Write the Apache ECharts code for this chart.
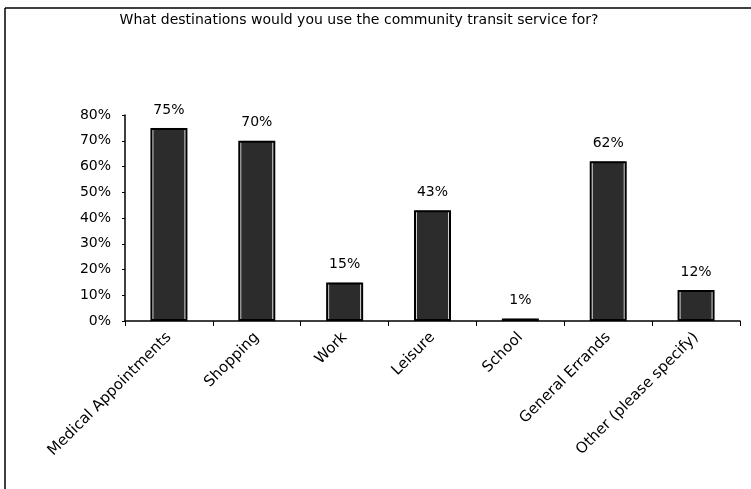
<!DOCTYPE html>
<html>
<head>
<meta charset="utf-8">
<script src="https://cdn.jsdelivr.net/npm/echarts@6/dist/echarts.min.js"></script>
<style>
  html, body { margin: 0; padding: 0; background: #fff; }
  #chart { width: 751px; height: 489px; }
</style>
</head>
<body>
<div id="chart"></div>
<script>
// Survey answers: share of respondents per destination
const categories = ['Medical Appointments', 'Shopping', 'Work', 'Leisure', 'School', 'General Errands', 'Other (please specify)'];
const percentages = [75, 70, 15, 43, 1, 62, 12];
const yTicks = [0, 10, 20, 30, 40, 50, 60, 70, 80];

const FONT = '"DejaVu Sans", Verdana, sans-serif';
const chart = echarts.init(document.getElementById('chart'));

chart.setOption({
  backgroundColor: '#ffffff',
  animation: false,
  title: {
    text: 'What destinations would you use the community transit service for?',
    left: 354,
    top: 8,
    textAlign: 'center',
    textStyle: { fontFamily: FONT, fontSize: 14, fontWeight: 'normal', color: '#000' }
  },
  graphic: [
    // frame around the chart area (top and left edges)
    { type: 'line', shape: { x1: 5, y1: 8, x2: 751, y2: 8 }, style: { stroke: '#000', lineWidth: 1.5 } },
    { type: 'line', shape: { x1: 5, y1: 8, x2: 5, y2: 489 }, style: { stroke: '#000', lineWidth: 1.5 } }
  ],
  grid: { left: 125, right: 11, top: 115, bottom: 168, containLabel: false },
  xAxis: [{
    type: 'category',
    data: categories,
    axisLine: { lineStyle: { color: '#000', width: 1.5 } },
    axisTick: { show: true, length: 5, lineStyle: { color: '#000' } },
    axisLabel: {
      rotate: 45,
      interval: 0,
      margin: 14,
      fontFamily: FONT,
      fontSize: 15,
      color: '#000'
    }
  }, {
    // hidden twin axis carrying the bar fill
    type: 'category',
    data: categories,
    show: false
  }],
  yAxis: {
    type: 'value',
    min: yTicks[0],
    max: yTicks[yTicks.length - 1],
    interval: 10,
    axisLine: { show: true, lineStyle: { color: '#000', width: 1.5 } },
    axisTick: { show: true, length: 3, lineStyle: { color: '#000' } },
    splitLine: { show: false },
    axisLabel: {
      formatter: v => v + '%',
      margin: 14,
      fontFamily: FONT,
      fontSize: 14,
      color: '#000'
    }
  },
  series: [{
    // dark fill with a light inner rim
    type: 'bar',
    xAxisIndex: 1,
    data: percentages,
    barWidth: 33,
    itemStyle: { color: '#2c2c2c', borderColor: '#d0d0d0', borderWidth: 1 },
    silent: true,
    z: 2
  }, {
    // black outline on top, carrying the value labels
    type: 'bar',
    xAxisIndex: 0,
    data: percentages,
    barWidth: 37,
    itemStyle: { color: 'rgba(0,0,0,0)', borderColor: '#000', borderWidth: 2 },
    label: {
      show: true,
      position: 'top',
      distance: 11,
      formatter: p => p.value + '%',
      fontFamily: FONT,
      fontSize: 14,
      color: '#000'
    },
    z: 3
  }]
});
</script>
</body>
</html>
